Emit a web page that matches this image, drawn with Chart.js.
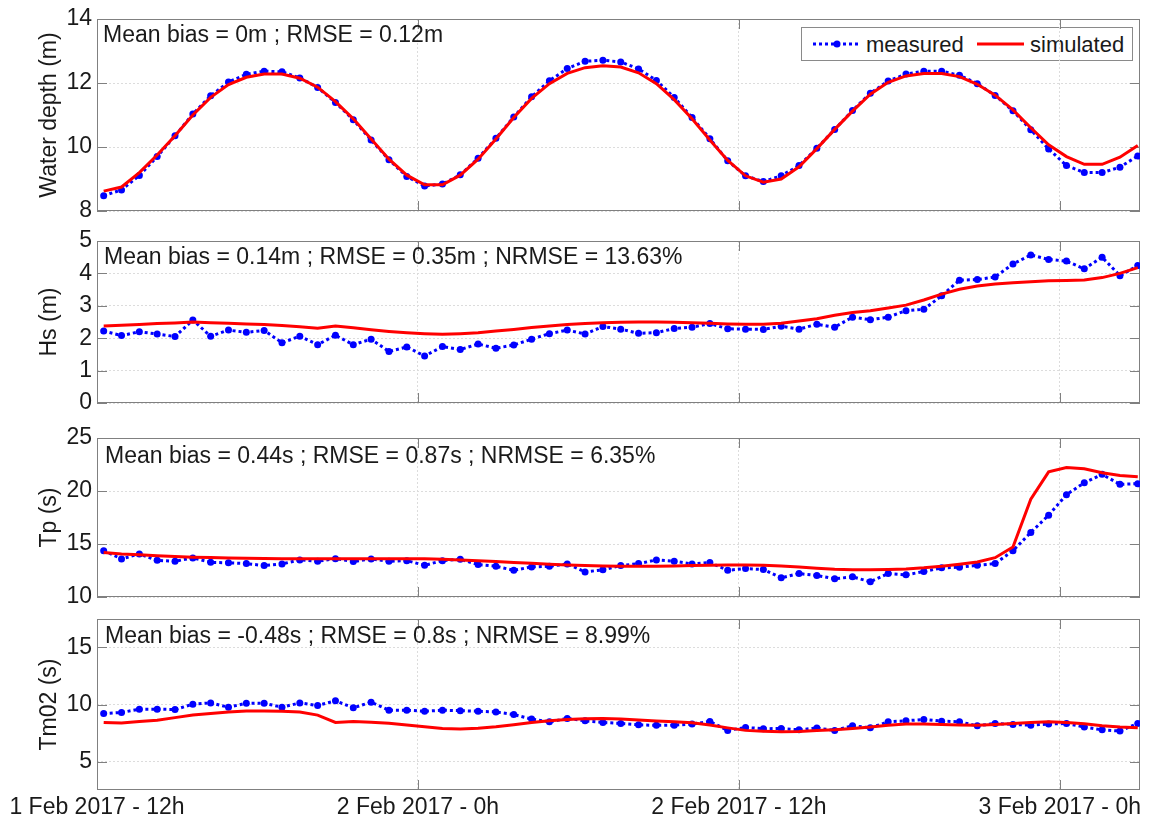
<!DOCTYPE html>
<html>
<head>
<meta charset="utf-8">
<script src="https://cdn.jsdelivr.net/npm/chart.js@4.4.1/dist/chart.umd.min.js"></script>
<style>
  body { margin: 0; background: #fff; width: 1149px; height: 822px; position: relative; overflow: hidden;
         font-family: 'Liberation Sans', Arial, sans-serif; color: #1a1a1a; }
  canvas { position: absolute; left: 0; }
  .stats { position: absolute; font-size: 23px; line-height: 23px; white-space: nowrap; }
  .legend { position: absolute; left: 801px; top: 27px; width: 330px; height: 32px; border: 1px solid #8a8a8a; background: #fff; }
  .legend svg { position: absolute; left: 0; top: 0; }
  .legend span { position: absolute; top: 6px; font-size: 22px; line-height: 22px; }
</style>
</head>
<body>
<div class="legend">
  <svg width="330" height="32">
    <line x1="11" y1="16" x2="59" y2="16" stroke="#0000ff" stroke-width="3" stroke-dasharray="3 3"/>
    <circle cx="35" cy="16" r="3.5" fill="#0000ff"/>
    <line x1="175" y1="16" x2="222" y2="16" stroke="#ff0000" stroke-width="3"/>
  </svg>
  <span style="left:64px">measured</span>
  <span style="left:228px">simulated</span>
</div>
<script>
// time axis: hours after 1 Feb 2017 12h
const xTickHours = [0, 12, 24, 36];
const xTickLabels = ["1 Feb 2017 - 12h", "2 Feb 2017 - 0h", "2 Feb 2017 - 12h", "3 Feb 2017 - 0h"];
// samples every 40 min starting 12:15
const firstHour = 0.25;
const stepHours = 40 / 60;

const depthTicks = [8, 10, 12, 14];
const depthMeasured = [
  8.48, 8.66, 9.11, 9.70, 10.35, 11.03, 11.60, 12.03, 12.27, 12.37,
  12.35, 12.16, 11.86, 11.39, 10.85, 10.22, 9.60, 9.08, 8.78, 8.84,
  9.13, 9.65, 10.27, 10.94, 11.57, 12.07, 12.45, 12.68, 12.71, 12.66,
  12.44, 12.08, 11.55, 10.92, 10.26, 9.57, 9.10, 8.92, 9.10, 9.42,
  9.96, 10.55, 11.14, 11.68, 12.06, 12.28, 12.37, 12.37, 12.24, 11.98,
  11.61, 11.13, 10.54, 9.94, 9.42, 9.20, 9.20, 9.37, 9.72
];
const depthSimulated = [
  8.62, 8.75, 9.20, 9.75, 10.35, 11.00, 11.55, 11.95, 12.18, 12.28,
  12.28, 12.15, 11.87, 11.42, 10.88, 10.25, 9.62, 9.12, 8.82, 8.82,
  9.12, 9.62, 10.25, 10.92, 11.52, 11.98, 12.30, 12.48, 12.54, 12.50,
  12.32, 11.98, 11.48, 10.88, 10.22, 9.58, 9.10, 8.90, 9.00, 9.38,
  9.95, 10.55, 11.12, 11.65, 12.02, 12.22, 12.30, 12.30, 12.20, 11.96,
  11.62, 11.16, 10.60, 10.07, 9.70, 9.46, 9.46, 9.68, 10.05
];

const hsTicks = [0, 1, 2, 3, 4, 5];
const hsMeasured = [
  2.22, 2.08, 2.20, 2.13, 2.05, 2.56, 2.06, 2.25, 2.18, 2.24,
  1.86, 2.06, 1.80, 2.09, 1.80, 1.97, 1.59, 1.73, 1.45, 1.74,
  1.65, 1.82, 1.69, 1.79, 1.97, 2.14, 2.25, 2.13, 2.36, 2.28,
  2.15, 2.17, 2.30, 2.34, 2.45, 2.29, 2.28, 2.27, 2.37, 2.28,
  2.43, 2.34, 2.65, 2.57, 2.65, 2.85, 2.89, 3.31, 3.79, 3.81,
  3.89, 4.29, 4.57, 4.43, 4.38, 4.14, 4.50, 3.93, 4.24
];
const hsSimulated = [
  2.38, 2.40, 2.42, 2.45, 2.47, 2.50, 2.48, 2.46, 2.44, 2.42,
  2.39, 2.35, 2.31, 2.38, 2.32, 2.26, 2.21, 2.17, 2.14, 2.12,
  2.14, 2.17, 2.22, 2.27, 2.33, 2.38, 2.42, 2.45, 2.48, 2.49,
  2.50, 2.50, 2.49, 2.48, 2.46, 2.44, 2.43, 2.43, 2.46, 2.53,
  2.60, 2.71, 2.79, 2.85, 2.93, 3.02, 3.18, 3.36, 3.51, 3.61,
  3.67, 3.71, 3.74, 3.77, 3.78, 3.80, 3.87, 4.00, 4.18
];

const tpTicks = [10, 15, 20, 25];
const tpMeasured = [
  14.37, 13.59, 14.06, 13.46, 13.37, 13.69, 13.27, 13.22, 13.15, 12.96,
  13.12, 13.50, 13.37, 13.62, 13.34, 13.59, 13.37, 13.43, 12.99, 13.43,
  13.56, 13.06, 12.90, 12.52, 12.84, 12.90, 13.12, 12.37, 12.56, 12.96,
  13.15, 13.50, 13.37, 13.12, 13.25, 12.52, 12.68, 12.59, 11.81, 12.21,
  12.03, 11.72, 11.90, 11.44, 12.21, 12.09, 12.40, 12.75, 12.81, 12.99,
  13.15, 14.37, 16.09, 17.72, 19.65, 20.78, 21.57, 20.63, 20.69
];
const tpSimulated = [
  14.20, 14.05, 13.98, 13.90, 13.82, 13.76, 13.72, 13.68, 13.65, 13.63,
  13.61, 13.60, 13.60, 13.60, 13.60, 13.60, 13.62, 13.62, 13.60, 13.55,
  13.50, 13.42, 13.34, 13.26, 13.18, 13.10, 13.02, 12.97, 12.93, 12.91,
  12.90, 12.90, 12.92, 12.96, 13.00, 13.02, 13.02, 13.00, 12.93, 12.84,
  12.72, 12.62, 12.56, 12.56, 12.59, 12.65, 12.75, 12.90, 13.09, 13.31,
  13.71, 14.72, 19.22, 21.81, 22.22, 22.09, 21.72, 21.47, 21.34
];

const tmTicks = [5, 10, 15];
const tmMeasured = [
  9.21, 9.30, 9.59, 9.59, 9.56, 10.03, 10.14, 9.76, 10.11, 10.11,
  9.76, 10.14, 9.91, 10.32, 9.71, 10.20, 9.50, 9.50, 9.41, 9.50,
  9.46, 9.41, 9.35, 9.12, 8.72, 8.48, 8.78, 8.57, 8.43, 8.34,
  8.22, 8.17, 8.19, 8.28, 8.51, 7.73, 7.99, 7.87, 7.90, 7.78,
  7.94, 7.73, 8.13, 7.96, 8.48, 8.57, 8.69, 8.54, 8.48, 8.13,
  8.34, 8.25, 8.19, 8.28, 8.34, 8.02, 7.78, 7.67, 8.34
];
const tmSimulated = [
  8.43, 8.37, 8.50, 8.62, 8.85, 9.07, 9.22, 9.35, 9.42, 9.44,
  9.40, 9.35, 9.07, 8.43, 8.51, 8.45, 8.35, 8.20, 8.05, 7.90,
  7.86, 7.92, 8.04, 8.22, 8.42, 8.57, 8.68, 8.76, 8.78, 8.72,
  8.63, 8.56, 8.48, 8.40, 8.20, 7.95, 7.73, 7.65, 7.60, 7.63,
  7.72, 7.78, 7.90, 8.02, 8.19, 8.28, 8.28, 8.25, 8.20, 8.17,
  8.25, 8.34, 8.42, 8.48, 8.43, 8.31, 8.13, 8.02, 7.96
];

const statsText = [
  "Mean bias = 0m ; RMSE = 0.12m",
  "Mean bias = 0.14m ; RMSE = 0.35m ; NRMSE = 13.63%",
  "Mean bias = 0.44s ; RMSE = 0.87s ; NRMSE = 6.35%",
  "Mean bias = -0.48s ; RMSE = 0.8s ; NRMSE = 8.99%"
];

// panel layout (plot area top/height in px)
const panels = [
  { top: 19,  height: 192, min: 8,   max: 14,   ticks: depthTicks, title: "Water depth (m)", meas: depthMeasured, sim: depthSimulated, statsLeft: 103, statsTop: 23 },
  { top: 241, height: 162, min: 0,   max: 5,    ticks: hsTicks,    title: "Hs (m)",          meas: hsMeasured,    sim: hsSimulated,    statsLeft: 104, statsTop: 245 },
  { top: 438, height: 159, min: 10,  max: 25,   ticks: tpTicks,    title: "Tp (s)",          meas: tpMeasured,    sim: tpSimulated,    statsLeft: 105, statsTop: 444 },
  { top: 619, height: 171, min: 2.5, max: 17.5, ticks: tmTicks,    title: "Tm02 (s)",        meas: tmMeasured,    sim: tmSimulated,    statsLeft: 105, statsTop: 624, showX: true }
];

const FONT = "'Liberation Sans', Arial, sans-serif";
const PAD = 12;

// MATLAB style box with inward tick marks
const framePlugin = {
  id: "frame",
  beforeDatasetsDraw(chart) {
    const { ctx, chartArea: a, scales: { x, y } } = chart;
    ctx.save();
    ctx.strokeStyle = "#808080";
    ctx.lineWidth = 1;
    ctx.beginPath();
    x.ticks.forEach((t) => {
      const px = Math.round(x.getPixelForValue(t.value)) + 0.5;
      ctx.moveTo(px, a.bottom); ctx.lineTo(px, a.bottom - 10);
      ctx.moveTo(px, a.top); ctx.lineTo(px, a.top + 10);
    });
    y.ticks.forEach((t) => {
      const py = Math.round(y.getPixelForValue(t.value)) + 0.5;
      ctx.moveTo(a.left, py); ctx.lineTo(a.left + 10, py);
      ctx.moveTo(a.right, py); ctx.lineTo(a.right - 10, py);
    });
    ctx.stroke();
    ctx.strokeRect(a.left + 0.5, a.top + 0.5, a.right - a.left - 1, a.bottom - a.top - 1);
    ctx.restore();
  }
};

const hours = depthMeasured.map((_, i) => firstHour + i * stepHours);
const toPoints = (vals) => vals.map((v, i) => ({ x: hours[i], y: v }));

panels.forEach((p, k) => {
  const xH = p.showX ? 32 : 0;
  const canvas = document.createElement("canvas");
  canvas.width = 1149;
  canvas.height = p.height + PAD + (p.showX ? xH : PAD);
  canvas.style.top = (p.top - PAD) + "px";
  document.body.appendChild(canvas);

  const stats = document.createElement("div");
  stats.className = "stats";
  stats.style.left = p.statsLeft + "px";
  stats.style.top = p.statsTop + "px";
  stats.textContent = statsText[k];
  document.body.appendChild(stats);

  new Chart(canvas, {
    type: "line",
    data: {
      datasets: [
        {
          label: "simulated",
          data: toPoints(p.sim),
          borderColor: "#ff0000",
          borderWidth: 3,
          pointRadius: 0,
          tension: 0,
          order: 0
        },
        {
          label: "measured",
          data: toPoints(p.meas),
          borderColor: "#0000ff",
          backgroundColor: "#0000ff",
          borderWidth: 3,
          borderDash: [3, 3],
          pointRadius: 3.5,
          pointBorderWidth: 0,
          pointBackgroundColor: "#0000ff",
          tension: 0,
          order: 1
        }
      ]
    },
    options: {
      responsive: false,
      animation: false,
      events: [],
      layout: { padding: { top: PAD, bottom: p.showX ? 0 : PAD, left: 0, right: 9 } },
      plugins: { legend: { display: false }, tooltip: { enabled: false } },
      scales: {
        x: {
          type: "linear",
          min: 0,
          max: 39,
          afterBuildTicks: (s) => { s.ticks = xTickHours.map((v) => ({ value: v })); },
          afterFit: (s) => { s.height = xH; s.paddingLeft = 0; s.paddingRight = 0; },
          grid: { color: "#dcdcdc", lineWidth: 1, drawTicks: false },
          border: { display: false, dash: [2, 2] },
          ticks: {
            display: !!p.showX,
            autoSkip: false,
            maxRotation: 0,
            padding: 4,
            color: "#1a1a1a",
            font: { family: FONT, size: 23 },
            callback: (v) => xTickLabels[xTickHours.indexOf(v)]
          }
        },
        y: {
          min: p.min,
          max: p.max,
          afterBuildTicks: (s) => { s.ticks = p.ticks.map((v) => ({ value: v })); },
          afterFit: (s) => { s.width = 97; s.paddingTop = 0; s.paddingBottom = 0; },
          grid: { color: "#dcdcdc", lineWidth: 1, drawTicks: false },
          border: { display: false, dash: [2, 2] },
          ticks: {
            padding: 5,
            color: "#1a1a1a",
            font: { family: FONT, size: 23 }
          },
          title: {
            display: true,
            text: p.title,
            color: "#1a1a1a",
            font: { family: FONT, size: 23 },
            padding: { top: 36, bottom: 0 }
          }
        }
      }
    },
    plugins: [framePlugin]
  });
});
</script>
</body>
</html>
